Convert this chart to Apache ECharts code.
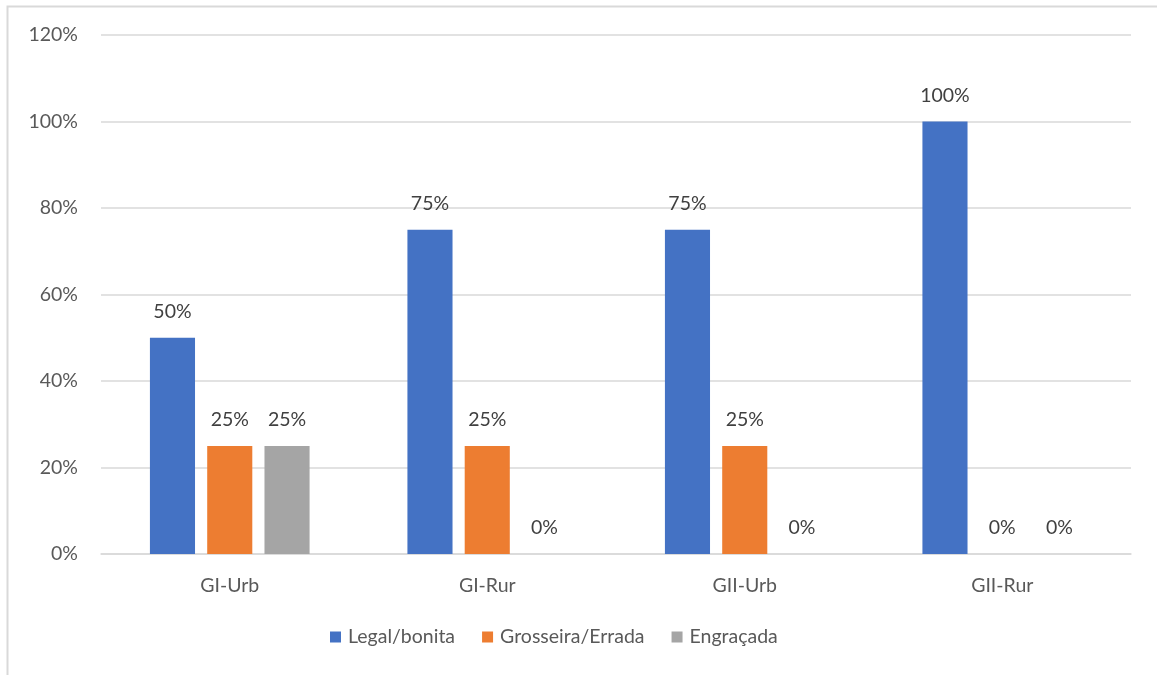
<!DOCTYPE html>
<html><head><meta charset="utf-8">
<script src="https://cdn.jsdelivr.net/npm/echarts@6/dist/echarts.min.js"></script>
<style>html,body{margin:0;padding:0;background:#fff}#c{width:1157px;height:675px}</style>
</head><body><div id="c"></div>
<script>
const categories = ['GI-Urb', 'GI-Rur', 'GII-Urb', 'GII-Rur'];
const seriesNames = ['Legal/bonita', 'Grosseira/Errada', 'Engraçada'];
const legal = [50, 75, 75, 100];
const grosseira = [25, 25, 25, 0];
const engracada = [25, 0, 0, 0];
const yTicks = [0, 20, 40, 60, 80, 100, 120];
const colors = ['#4472C4', '#ED7D31', '#A5A5A5'];
const font = 'Lato, "Open Sans", sans-serif';
const fs = 19.5;
const chart = echarts.init(document.getElementById('c'));
const mk = (name, data, color) => ({
  name, type: 'bar', data, barGap: '27%', barCategoryGap: '38%',
  itemStyle: { color },
  label: { show: true, position: 'top', distance: 16, formatter: p => p.value + '%',
    color: '#404040', fontSize: fs, fontFamily: font }
});
chart.setOption({
  animation: false,
  graphic: [{ type: 'rect', shape: { x: 7.5, y: 6.5, width: 1200, height: 700 },
    style: { fill: 'none', stroke: '#d9d9d9', lineWidth: 2 }, silent: true }],
  grid: { left: 101, right: 26, top: 35, bottom: 121 },
  legend: { bottom: 23, left: 325, itemWidth: 11, itemHeight: 11, itemGap: 27,
    icon: 'rect', textStyle: { color: '#595959', fontSize: fs, fontFamily: font, padding: [0, 0, 0, 2] } },
  xAxis: { type: 'category', data: categories,
    axisLine: { lineStyle: { color: '#d9d9d9', width: 1.5 } }, axisTick: { show: false },
    axisLabel: { color: '#595959', fontSize: fs, fontFamily: font, margin: 22 } },
  yAxis: { type: 'value', min: yTicks[0], max: yTicks[yTicks.length - 1], interval: 20,
    axisLabel: { formatter: '{value}%', color: '#595959', fontSize: fs, fontFamily: font, margin: 23 },
    splitLine: { lineStyle: { color: '#d9d9d9', width: 1.5 } } },
  series: [mk(seriesNames[0], legal, colors[0]), mk(seriesNames[1], grosseira, colors[1]), mk(seriesNames[2], engracada, colors[2])]
});
</script></body></html>
